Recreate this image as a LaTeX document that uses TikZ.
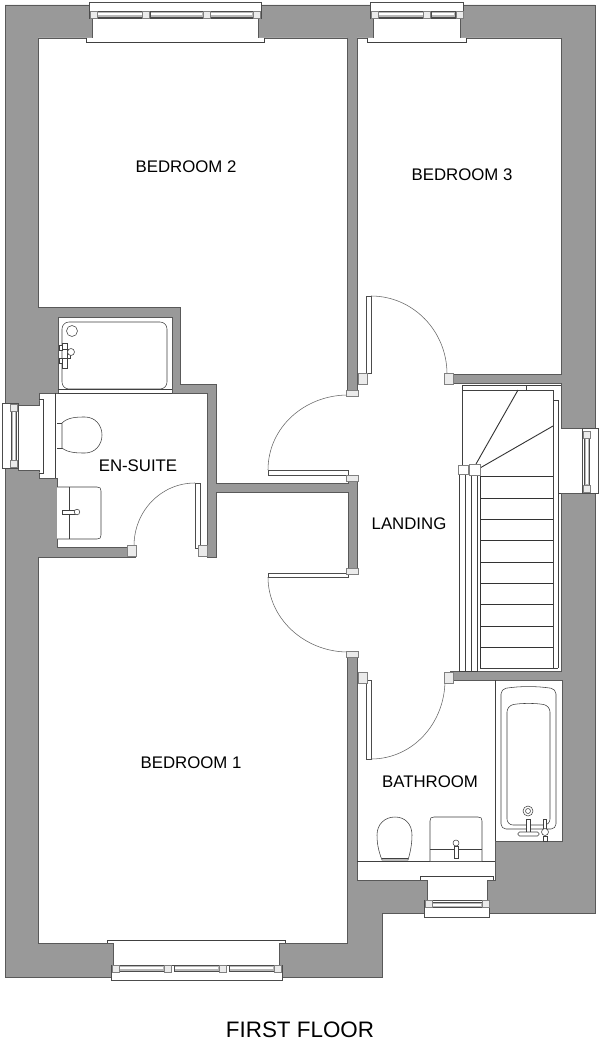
\documentclass[tikz,border=0pt]{standalone}
\usepackage{fontspec}
\setmainfont{Liberation Sans}
\definecolor{wallgrey}{HTML}{999999}
\begin{document}
\begin{tikzpicture}[
    x=1pt, y=-1pt,
    wall/.style={draw=black!65, fill=wallgrey, line width=0.7pt},
    room/.style={draw=black!65, fill=white, line width=0.7pt, line join=miter},
    fix/.style={draw=black!75, fill=white, line width=0.55pt},
    tread/.style={draw=black!80, line width=0.9pt},
    leaf/.style={draw=black!70, fill=white, line width=0.6pt},
    swing/.style={draw=black!60, line width=0.55pt},
    jamb/.style={draw=black!50, fill=wallgrey!20, line width=0.6pt},
    pane/.style={draw=black!70, fill=white, line width=0.6pt},
    glass/.style={draw=black!70, fill=wallgrey!70, line width=0.5pt},
    roomlabel/.style={font=\fontsize{16.8}{20}\selectfont, inner sep=0pt}
]
\useasboundingbox (0,0) rectangle (600,1049);
% walls, then one floor outline through the door openings
\draw[wall] (5,5) -- (595,5) -- (595,913) -- (382,913) -- (382,977) -- (5,977) -- cycle;
\draw[room] (38,38) -- (92,38) -- (92,18) -- (258,18) -- (258,38) -- (347,38) -- (347,393)
    -- (357,393) -- (357,38) -- (373,38) -- (373,18) -- (460,18) -- (460,38) -- (561,38)
    -- (561,374) -- (448,374) -- (448,383) -- (561,383) -- (561,428) -- (582,428)
    -- (582,493) -- (561,493) -- (561,671) -- (450,671) -- (450,680) -- (562,680)
    -- (562,841) -- (495,841) -- (495,880) -- (487,880) -- (487,902) -- (427,902)
    -- (427,880) -- (357,880) -- (357,655) -- (347,655) -- (347,943) -- (279,943)
    -- (279,965) -- (113,965) -- (113,943) -- (38,943) -- (38,557) -- (135,557)
    -- (135,547) -- (57,547) -- (57,478) -- (39,478) -- (39,470) -- (18,470) -- (18,405)
    -- (39,405) -- (39,393) -- (58,393) -- (58,317) -- (172,317) -- (172,393) -- (207,393)
    -- (207,557) -- (216,557) -- (216,492) -- (348,492) -- (348,570) -- (357,570)
    -- (357,475) -- (348,475) -- (348,483) -- (216,483) -- (216,384) -- (180,384)
    -- (180,307) -- (38,307) -- cycle;

% sills and duct boxes
\draw[fix] (86,38) -- (86,42) -- (264,42) -- (264,38);
\draw[fix] (367,38) -- (367,42) -- (466,42) -- (466,38);
\draw[fix] (107,943) -- (107,940) -- (285,940) -- (285,943);
\draw[fix] (420,880) -- (420,876) -- (493,876) -- (493,880);
\draw[fix] (558,428) -- (558,493) -- (561,493);
\draw[fix] (43,405) -- (43,399) -- (39,399);
\draw[fix] (43,470) -- (43,473) -- (39,473);
\draw[fix] (43,405) -- (43,470);
\draw[fix] (55,393) -- (55,478);
\draw[fix] (357,861) -- (495,861);
\draw[fix] (495,680) -- (495,841);

% windows
\draw[pane] (89,2.5) rectangle (261,18);
\draw[pane] (370,2.5) rectangle (463,18);
\draw[pane] (111,965) rectangle (282,980);
\draw[pane] (424,900) rectangle (489,917);
\draw[pane] (2,403) rectangle (18,468);
\draw[pane] (582,428) rectangle (598,493);
\foreach \xa/\ya/\xb in {97/11.5/143, 150/11.5/203, 210/11.5/253, 378/11.5/425, 431/11.5/455,
                         119/965.5/164, 174/965.5/219, 229/965.5/274, 431/902/482}
{
    \draw[glass] (\xa,\ya) rectangle (\xb,\ya+5.5);
    \fill[white] (\xa+1,\ya+1.5) rectangle (\xb-1,\ya+3.5);
}
\foreach \xa/\ya/\yb in {11/410/461, 584/436/485}
{
    \draw[glass] (\xa,\ya) rectangle (\xa+5.5,\yb);
    \fill[white] (\xa+1.5,\ya+1) rectangle (\xa+3.5,\yb-1);
}
\foreach \px/\py in {90/11, 142/11, 203/11, 253/11, 371/11, 423/11, 456/11,
                     112/965, 164/965, 219/965, 274/965, 425/900, 482/900}
    \draw[jamb] (\px,\py) rectangle ++(7,7);
\foreach \px/\py in {10/404, 10/460, 583/431, 583/485}
    \draw[jamb] (\px,\py) rectangle ++(7,7);

% doors
\draw[leaf] (366,296) rectangle (371,373);
\draw[swing] (371,296) .. controls (413,296) and (447,331) .. (447,374);
\draw[leaf] (268,470) rectangle (348,475);
\draw[swing] (268,470) .. controls (268,427) and (305,395) .. (348,395);
\draw[leaf] (268,573) rectangle (348,577);
\draw[swing] (268,577) .. controls (268,619) and (305,652) .. (348,652);
\draw[leaf] (366,680) rectangle (371,759);
\draw[swing] (371,759) .. controls (413,759) and (445,723) .. (445,680);
\draw[leaf] (195,483) rectangle (200,548);
\draw[swing] (195,483) .. controls (161,483) and (134,511) .. (134,546);
\foreach \px/\py in {346/390, 346/475, 346/568, 346/651}
    \draw[jamb] (\px,\py) rectangle ++(12,6);
\foreach \px/\py in {358/373, 358/672, 444/373, 444/672, 127/545, 198/545}
    \draw[jamb] (\px,\py) rectangle ++(9,11);

% stairs
\draw[fix, fill=none] (462,465) -- (462,385) -- (561,385);
\draw[fix, fill=none] (462,390) -- (553,390) -- (553,668);
\draw[fix, fill=none] (526,385) -- (526,390);
\draw[fix, fill=none] (553,400) -- (558,400) -- (558,668);
\draw[fix, fill=none] (480,668) -- (558,668);
\draw[fix] (459,474) rectangle (477,671);
\draw[fix, fill=none] (465,474) -- (465,671) (471,474) -- (471,671);
\draw[tread] (480,475) -- (480,668);
\draw[tread] (476,464) -- (518,390);
\draw[tread] (480,468) -- (553,426);
\foreach \ty in {476.7, 498, 519.3, 540.7, 562, 583.3, 604.7, 626, 647.3}
    \draw[tread] (480,\ty) -- (553,\ty);
\draw[jamb, fill=white] (458,465) rectangle (468,474);
\draw[jamb, fill=white] (469,464) rectangle (480,475);

% shower
\draw[fix, rounded corners=7pt] (62,322) rectangle (167,389);
\draw[fix, fill=none] (58,393) -- (172,393) (58,389) -- (172,389);
\draw[fix] (72,331) circle (5.5);
\draw[fix] (62,343) rectangle (67,349);
\draw[fix] (59,345) rectangle (62,350);
\draw[fix] (62,358) rectangle (67,368);
\draw[fix] (59,358) rectangle (62,363);
\draw[fix] (67,349) rectangle (70,358);
\draw[fix] (71,352) circle (3.5);

% en-suite toilet and basin
\draw[fix] (57,423) -- (62,423) -- (62,448) -- (57,448);
\draw[fix] (62,423) .. controls (68,417) and (78,417) .. (85,417)
    .. controls (95,417) and (102,425) .. (102,435)
    .. controls (102,445) and (95,453) .. (85,453)
    .. controls (78,453) and (68,453) .. (62,448) -- cycle;
\draw[fix] (57,487) -- (97,487) .. controls (100,487) and (101,488) .. (101,491) -- (101,535)
    .. controls (101,538) and (100,539) .. (97,539) -- (57,539);
\draw[fix, fill=none] (69,487) -- (69,539);
\draw[fix] (62,510) rectangle (75,514);
\draw[fix] (77,512) circle (2.8);

% bath
\draw[fix, rounded corners=5pt] (501,689) .. controls (520,686) and (537,686) .. (556,689)
    -- (556,829) -- (501,829) -- cycle;
\draw[fix, rounded corners=6pt] (507,706) .. controls (520,703) and (537,703) .. (550,706)
    -- (550,825) -- (507,825) -- cycle;
\draw[fix] (528,811) circle (5);
\draw[fix] (528,811) circle (2.5);
\draw[fix] (526,819) rectangle (530,832);
\draw[fix, rounded corners=1.5pt] (518,832) rectangle (539,836);
\draw[fix] (543,819) rectangle (546,830);
\draw[fix] (545,832) circle (3.5);
\draw[fix] (543,836) rectangle (547,841);

% bathroom toilet and basin
\draw[fix] (382,860) .. controls (378,850) and (377,842) .. (377,835)
    .. controls (377,824) and (385,817) .. (395,817)
    .. controls (405,817) and (412,824) .. (412,835)
    .. controls (412,842) and (411,850) .. (408,860) -- cycle;
\draw[fix, fill=none, line width=1pt] (382,858.5) -- (408,858.5);
\draw[fix] (430,861) -- (430,821) .. controls (430,818) and (431,817) .. (434,817) -- (478,817)
    .. controls (481,817) and (482,818) .. (482,821) -- (482,861);
\draw[fix, fill=none] (430,849) -- (482,849);
\draw[fix] (454,846) rectangle (458,858);
\draw[fix] (456,843) circle (3);

% labels
\node[roomlabel] (bedroomtwo) at (186,167) {BEDROOM 2};
\node[roomlabel] (bedroomthree) at (462,175) {BEDROOM 3};
\node[roomlabel] (ensuite) at (138,466) {EN-SUITE};
\node[roomlabel] (landing) at (409,524) {LANDING};
\node[roomlabel] (bedroomone) at (191,763) {BEDROOM 1};
\node[roomlabel] (bathroom) at (430,782) {BATHROOM};
\node[font=\fontsize{22.4}{26}\selectfont, inner sep=0pt] (floorname) at (300,1030) {FIRST FLOOR};
\end{tikzpicture}
\end{document}
